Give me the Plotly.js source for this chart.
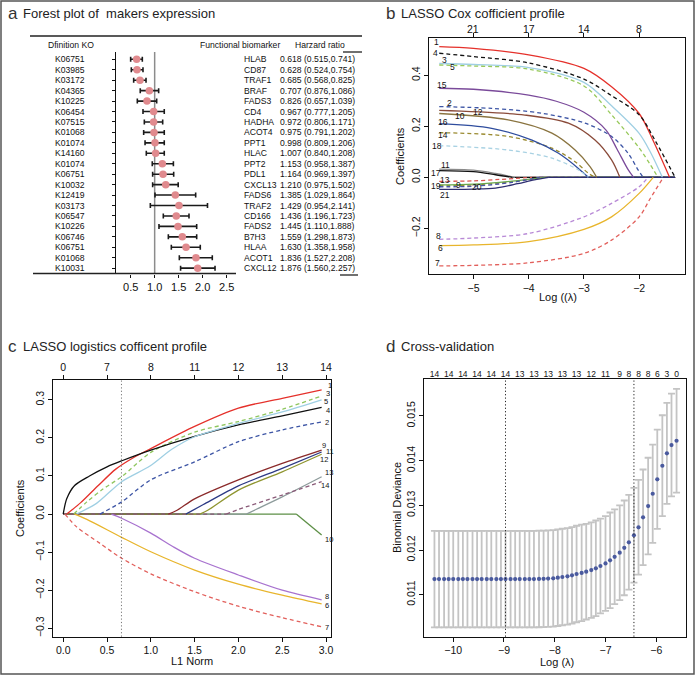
<!DOCTYPE html>
<html><head><meta charset="utf-8">
<script src="https://cdn.plot.ly/plotly-3.0.1.min.js"></script>
<style>html,body{margin:0;padding:0;background:#fff}#chart{width:695px;height:675px}</style>
</head><body><div id="chart"></div>
<script>
// ---------------- Panel a : forest plot ----------------
const koIds = ['K06751','K03985','K03172','K04365','K10225','K06454','K07515','K01068','K01074','K14160','K01074','K06751','K10032','K12419','K03173','K06547','K10226','K06746','K06751','K01068','K10031'];
const biomarkers = ['HLAB','CD87','TRAF1','BRAF','FADS3','CD4','HADHA','ACOT4','PPT1','HLAC','PPT2','PDL1','CXCL13','FADS6','TRAF2','CD166','FADS2','B7H3','HLAA','ACOT1','CXCL12'];
const hrText = ['0.618','0.628','0.685','0.707','0.826','0.967','0.972','0.975','0.998','1.007','1.153','1.164','1.210','1.385','1.429','1.436','1.445','1.559','1.630','1.836','1.876'];
const ciText = ['(0.515,0.741)','(0.524,0.754)','(0.568,0.825)','(0.876,1.086)','(0.657,1.039)','(0.777,1.205)','(0.806,1.171)','(0.791,1.202)','(0.809,1.206)','(0.840,1.208)','(0.958,1.387)','(0.969,1.397)','(0.975,1.502)','(1.029,1.864)','(0.954,2.141)','(1.196,1.723)','(1.110,1.888)','(1.298,1.873)','(1.358,1.958)','(1.527,2.208)','(1.560,2.257)'];
// plotted point / interval, as drawn in the figure
const hrPoint = [0.625,0.632,0.694,0.889,0.840,0.979,0.979,0.986,1.007,1.020,1.160,1.174,1.230,1.430,1.507,1.450,1.486,1.576,1.653,1.860,1.896];
const hrLow   = [0.500,0.514,0.563,0.700,0.639,0.757,0.785,0.771,0.800,0.826,0.950,0.958,0.958,1.007,0.910,1.180,1.090,1.285,1.347,1.514,1.540];
const hrHigh  = [0.743,0.757,0.820,1.083,1.042,1.200,1.167,1.200,1.200,1.200,1.390,1.396,1.490,1.854,2.100,1.715,1.875,1.875,1.950,2.200,2.257];
const forestTicks = [0.5,1.0,1.5,2.0,2.5];
const forestTickText = ['0.5','1.0','1.5','2.0','2.5'];

// ---------------- Panel b : LASSO Cox coefficient profile ----------------
const cox1  = [[-5.62,0.512],[-5,0.505],[-4,0.48],[-3,0.427],[-2.5,0.355],[-2,0.25],[-1.75,0.145],[-1.45,0]];
const cox2  = [[-5.62,0.277],[-4.67,0.27],[-3.76,0.251],[-2.98,0.212],[-2.5,0.16],[-2.2,0.094],[-2.02,0.029],[-1.93,0]];
const cox3  = [[-5.62,0.446],[-5,0.442],[-4,0.43],[-3,0.372],[-2.5,0.28],[-2,0.172],[-1.8,0.1],[-1.58,0]];
const cox4  = [[-5.62,0.486],[-5,0.473],[-4,0.448],[-3,0.385],[-2.5,0.32],[-2,0.245],[-1.7,0.14],[-1.35,0]];
const cox5  = [[-5.62,0.44],[-5,0.436],[-4,0.424],[-3,0.358],[-2.5,0.245],[-2,0.115],[-1.8,0.05],[-1.66,0]];
const cox6  = [[-5.62,-0.268],[-5,-0.265],[-4,-0.252],[-3,-0.204],[-2.5,-0.155],[-2,-0.063],[-1.745,0]];
const cox7  = [[-5.62,-0.347],[-5,-0.345],[-4,-0.335],[-3,-0.298],[-2.5,-0.246],[-2,-0.155],[-1.8,-0.083],[-1.56,0]];
const cox8  = [[-5.62,-0.243],[-5,-0.238],[-4,-0.22],[-3,-0.155],[-2.5,-0.102],[-2,-0.037],[-1.84,0]];
const cox9  = [[-5.62,-0.032],[-5,-0.03],[-4.3,-0.017],[-3.75,0]];
const cox10 = [[-5.62,0.25],[-4.37,0.225],[-3.58,0.173],[-3.16,0.107],[-2.89,0.042],[-2.77,0]];
const cox11 = [[-5.62,0.032],[-5,0.028],[-4.6,0.015],[-4.25,0]];
const cox12 = [[-5.62,0.262],[-4.07,0.244],[-3.28,0.212],[-2.8,0.146],[-2.5,0.068],[-2.35,0]];
const cox13 = [[-5.62,-0.016],[-5,-0.014],[-4.5,-0.008],[-3.94,0]];
const cox14 = [[-5.62,0.175],[-4.37,0.16],[-3.58,0.114],[-3.16,0.061],[-2.92,0.016],[-2.8,0]];
const cox15 = [[-5.62,0.349],[-5,0.345],[-4,0.322],[-3.5,0.298],[-3,0.255],[-2.6,0.185],[-2.4,0.11],[-2.2,0.03],[-2.1,0]];
const cox16 = [[-5.62,0.21],[-4.67,0.192],[-3.94,0.146],[-3.46,0.094],[-3.1,0.035],[-2.92,0]];
const cox17 = [[-5.62,0.026],[-5,0.022],[-4.6,0.01],[-4.3,0]];
const cox18 = [[-5.62,0.124],[-4.37,0.107],[-3.58,0.075],[-3.1,0.029],[-2.92,0]];
const cox19 = [[-5.62,-0.03],[-5,-0.027],[-4.3,-0.015],[-3.7,0]];
const cox20 = [[-5.62,-0.037],[-5,-0.035],[-4.3,-0.02],[-3.8,0]];
const cox21 = [[-5.62,-0.047],[-5,-0.046],[-4.6,-0.042],[-4.2,-0.025],[-3.9,-0.01],[-3.64,0]];
const coxCurves = [cox1,cox2,cox3,cox4,cox5,cox6,cox7,cox8,cox9,cox10,cox11,cox12,cox13,cox14,cox15,cox16,cox17,cox18,cox19,cox20,cox21];
const coxNames  = ['1','2','3','4','5','6','7','8','9','10','11','12','13','14','15','16','17','18','19','20','21'];
const coxLabelX = [-5.67,-5.44,-5.52,-5.68,-5.38,-5.6,-5.66,-5.63,-5.28,-5.24,-5.51,-4.92,-5.52,-5.56,-5.57,-5.56,-5.68,-5.66,-5.68,-4.93,-5.51];
const coxLabelY = [0.532,0.29,0.46,0.486,0.434,-0.276,-0.337,-0.23,-0.031,0.24,0.048,0.257,-0.011,0.166,0.362,0.218,0.018,0.123,-0.034,-0.039,-0.069];
const coxLambdaEnd = -1.35;
const coxTopTicks = [-5,-4,-3,-2];
const coxTopText = ['21','17','14','8'];

// ---------------- Panel c : LASSO logistic coefficient profile ----------------
const log1  = [[0.04,0],[0.2,0.03],[0.4,0.075],[0.6,0.118],[0.8,0.148],[1.0,0.172],[1.5,0.23],[2.0,0.278],[2.5,0.304],[2.95,0.326]];
const log2  = [[0.42,0],[0.667,0.032],[1.0,0.09],[1.5,0.137],[2.0,0.19],[2.5,0.221],[2.95,0.242]];
const log3  = [[0.12,0],[0.27,0.032],[0.45,0.065],[0.667,0.098],[1.0,0.162],[1.5,0.215],[2.0,0.243],[2.5,0.275],[2.95,0.31]];
const log4  = [[0,0],[0.04,0.04],[0.13,0.075],[0.3,0.1],[0.5,0.124],[0.67,0.14],[1.0,0.168],[1.5,0.204],[2.0,0.234],[2.5,0.258],[2.95,0.28]];
const log5  = [[0.15,0],[0.38,0.028],[0.667,0.085],[0.99,0.126],[1.24,0.17],[1.5,0.203],[2.0,0.238],[2.5,0.268],[2.95,0.3]];
const log6  = [[0.13,0],[0.27,-0.014],[0.667,-0.061],[1.0,-0.099],[1.5,-0.147],[2.0,-0.184],[2.5,-0.213],[2.95,-0.236]];
const log7  = [[0.02,0],[0.15,-0.033],[0.42,-0.077],[0.667,-0.116],[1.0,-0.157],[1.5,-0.204],[2.0,-0.242],[2.5,-0.272],[2.95,-0.296]];
const log8  = [[0.55,0],[0.667,-0.011],[1.0,-0.05],[1.25,-0.085],[1.5,-0.116],[2.0,-0.16],[2.5,-0.2],[2.95,-0.225]];
const log9  = [[1.2,0],[1.3,0.01],[1.5,0.04],[2.0,0.09],[2.5,0.133],[2.95,0.168]];
const log10 = [[2.66,0],[2.95,-0.055]];
const log11 = [[1.4,0],[1.6,0.025],[2.0,0.074],[2.5,0.12],[2.95,0.163]];
const log12 = [[1.56,0],[1.65,0.01],[2.0,0.063],[2.5,0.111],[2.95,0.157]];
const log13 = [[2.09,0],[2.2,0.012],[2.5,0.045],[2.95,0.098]];
const log14 = [[1.86,0],[2.0,0.012],[2.5,0.05],[2.95,0.085]];
const logCurves = [log10,log13,log1,log2,log3,log4,log5,log6,log7,log8,log9,log11,log12,log14];
const logNames  = ['10','13','1','2','3','4','5','6','7','8','9','11','12','14'];
const logLabelX = [2.96,2.96,2.995,2.97,2.98,2.98,2.95,2.97,2.97,2.97,2.93,2.98,2.91,2.92];
const logLabelY = [-0.067,0.109,0.338,0.241,0.316,0.273,0.295,-0.239,-0.297,-0.216,0.181,0.164,0.144,0.074];
const logTopTicks = [0,0.5,1,1.5,2,2.5,3];
const logTopText = ['0','7','8','11','12','13','14'];
const logBottomText = ['0.0','0.5','1.0','1.5','2.0','2.5','3.0'];
const logSelectedNorm = 0.665;

// ---------------- Panel d : cross-validation ----------------
const cvLogLambda = [-10.37,-10.28,-10.18,-10.09,-10.00,-9.90,-9.81,-9.72,-9.62,-9.53,-9.44,-9.34,-9.25,-9.15,-9.06,-8.97,-8.87,-8.78,-8.69,-8.59,-8.50,-8.41,-8.31,-8.22,-8.13,-8.03,-7.94,-7.85,-7.75,-7.66,-7.57,-7.47,-7.38,-7.28,-7.19,-7.10,-7.00,-6.91,-6.82,-6.72,-6.63,-6.54,-6.44,-6.35,-6.26,-6.16,-6.07,-5.98,-5.88,-5.79,-5.70,-5.60];
const cvMean = [0.01135,0.01135,0.01135,0.01135,0.01135,0.01135,0.01135,0.01135,0.01135,0.01135,0.01135,0.01135,0.01135,0.01135,0.01135,0.01135,0.01135,0.01135,0.01135,0.01135,0.01135,0.01135,
  0.011352,0.011355,0.01136,0.011367,0.01138,0.011396,0.01141,0.011434,0.011463,0.011488,0.011515,0.01155,0.01159,0.011642,0.0117,0.011769,0.011848,0.01194,0.012048,0.012172,0.01233,0.012508,0.012732,0.012984,0.013259,0.013582,0.013886,0.014163,0.014349,0.014445];
const cvSE = [0.00108,0.00108,0.00108,0.00108,0.00108,0.00108,0.00108,0.00108,0.00108,0.00108,0.00108,0.00108,0.00108,0.00108,0.00108,0.00108,0.00108,0.00108,0.00108,0.00108,0.00108,0.00108,
  0.00108,0.00108,0.00108,0.00108,0.00108,0.00108,0.00108,0.00108,0.00108,0.00108,0.00107,0.00107,0.00107,0.00106,0.00106,0.00107,0.00106,0.00106,0.00106,0.00106,0.00106,0.00106,0.00107,0.00108,0.0011,0.00111,0.00113,0.00113,0.00115,0.00116];
const cvTopIdx = [0,3,6,9,12,15,18,21,24,27,30,33,36,39,41,43,45,47,49,51];
const cvTopText = ['14','14','14','14','14','14','13','13','13','13','13','12','11','9','8','8','8','6','3','0'];
const cvMinIdx = 15, cv1seIdx = 42;
const cvTicks = [-10,-9,-8,-7,-6];
const cvYTicks = [0.011,0.012,0.013,0.014,0.015];

// ---------------- styles ----------------
const FONT = 'Liberation Sans, Arial, Helvetica, sans-serif';
const W = 695, H = 675;
const coxColor = ['#e5312b','#3d55a5','#9fcfe3','#111111','#97c95a','#e8b52c','#e2605c','#b889d6','#9a8a30','#8a7440','#8a8a8a','#8a4b3a','#d9534f','#9a8a30','#7a4a9a','#2f4d9e','#111111','#a9d2e3','#6aa84f','#4a55a5','#2d2d70'];
const coxDash  = ['solid','dash','solid','dash','dash','solid','dash','dash','dash','solid','solid','solid','dash','dash','solid','solid','solid','dash','solid','dash','solid'];
const logColorMap = {'1':'#e5312b','2':'#3d55a5','3':'#8fc65f','4':'#111111','5':'#9fcfe3','6':'#e8b52c','7':'#e2605c','8':'#a873cf','9':'#8b2a2a','10':'#5d8f46','11':'#2d3a85','12':'#8f9530','13':'#8d9b9b','14':'#8a5a78'};
const logDashMap  = {'1':'solid','2':'dash','3':'dash','4':'solid','5':'solid','6':'solid','7':'dash','8':'solid','9':'solid','10':'solid','11':'solid','12':'solid','13':'solid','14':'dash'};
const DASH = '4px,3px';
const DOTS = '1.2px,2.2px';
const px = x => x / W, py = y => 1 - y / H;

const traces = [];
const ann = [];
const shapes = [];
function note(x, y, text, o) {
  o = o || {};
  ann.push({xref: o.xref || 'paper', yref: o.yref || 'paper', x: x, y: y, text: text, showarrow: false,
    xanchor: o.xanchor || 'center', yanchor: o.yanchor || 'middle', textangle: o.textangle || 0,
    font: {family: FONT, size: o.size || 9, color: o.color || '#111'}});
}

// ---- panel a traces ----
const rows = koIds.map((_, i) => i);
traces.push({type: 'scatter', mode: 'markers', x: hrPoint, y: rows, xaxis: 'x', yaxis: 'y',
  marker: {color: '#e08a8e', size: 7.5, line: {width: 0}},
  error_x: {type: 'data', symmetric: false, array: hrHigh.map((h, i) => h - hrPoint[i]),
    arrayminus: hrLow.map((l, i) => hrPoint[i] - l), color: '#1a1a1a', thickness: 1.6, width: 2.5},
  hoverinfo: 'skip', showlegend: false});
rows.forEach(i => {
  note(px(70), i, koIds[i], {yref: 'y', size: 8.6});
  note(px(242), i, biomarkers[i], {yref: 'y', size: 8.6, xanchor: 'left'});
  note(px(278), i, hrText[i], {yref: 'y', size: 8.6, xanchor: 'left'});
  note(px(301.5), i, ciText[i], {yref: 'y', size: 8.6, xanchor: 'left'});
});
note(px(71), py(45), 'Dfinition KO', {size: 8.6});
note(px(240), py(45), 'Functional biomarker', {size: 8.6});
note(px(320), py(45), 'Harzard ratio', {size: 8.6});
shapes.push({type: 'line', xref: 'x', yref: 'y domain', x0: 1, x1: 1, y0: 0, y1: 1, line: {color: '#8c8c8c', width: 1.5}, layer: 'below'});
shapes.push({type: 'line', xref: 'paper', yref: 'paper', x0: px(30), x1: px(362), y0: py(36), y1: py(36), line: {color: '#222', width: 1.3}});
shapes.push({type: 'line', xref: 'paper', yref: 'paper', x0: px(343), x1: px(362), y0: py(52), y1: py(52), line: {color: '#222', width: 1.3}});
shapes.push({type: 'line', xref: 'paper', yref: 'paper', x0: px(33), x1: px(236), y0: py(273.5), y1: py(273.5), line: {color: '#222', width: 1.6}});
shapes.push({type: 'line', xref: 'paper', yref: 'paper', x0: px(340), x1: px(358), y0: py(275), y1: py(275), line: {color: '#222', width: 1.3}});

// ---- panel b traces ----
coxCurves.forEach((pts, i) => {
  const st = {color: coxColor[i], width: 1.3, dash: coxDash[i] === 'dash' ? DASH : 'solid'};
  const last = pts[pts.length - 1];
  traces.push({type: 'scatter', mode: 'lines', x: [last[0], coxLambdaEnd], y: [0, 0], xaxis: 'x2', yaxis: 'y2', line: st, hoverinfo: 'skip', showlegend: false});
});
coxCurves.forEach((pts, i) => {
  const st = {color: coxColor[i], width: 1.3, dash: coxDash[i] === 'dash' ? DASH : 'solid', shape: 'spline', smoothing: 0.9};
  traces.push({type: 'scatter', mode: 'lines', x: pts.map(p => p[0]), y: pts.map(p => p[1]), xaxis: 'x2', yaxis: 'y2', line: st, hoverinfo: 'skip', showlegend: false});
  note(coxLabelX[i], coxLabelY[i], coxNames[i], {xref: 'x2', yref: 'y2', size: 8.5});
});
traces.push({type: 'scatter', mode: 'markers', x: coxTopTicks, y: coxTopTicks.map(() => 0), xaxis: 'x5', yaxis: 'y2', marker: {opacity: 0}, hoverinfo: 'skip', showlegend: false});
coxTopTicks.forEach((v, i) => note(v, py(28.5), coxTopText[i], {xref: 'x2', size: 10.5}));

// ---- panel c traces ----
logCurves.forEach((pts, i) => {
  const nm = logNames[i];
  const first = pts[0];
  if (first[0] > 0) {
    traces.push({type: 'scatter', mode: 'lines', x: [0, first[0]], y: [0, 0], xaxis: 'x3', yaxis: 'y3',
      line: {color: logColorMap[nm], width: 1.3, dash: logDashMap[nm] === 'dash' ? DASH : 'solid'}, hoverinfo: 'skip', showlegend: false});
  }
});
logCurves.forEach((pts, i) => {
  const nm = logNames[i];
  traces.push({type: 'scatter', mode: 'lines', x: pts.map(p => p[0]), y: pts.map(p => p[1]), xaxis: 'x3', yaxis: 'y3',
    line: {color: logColorMap[nm], width: 1.3, dash: logDashMap[nm] === 'dash' ? DASH : 'solid', shape: 'spline', smoothing: 0.8}, hoverinfo: 'skip', showlegend: false});
  note(logLabelX[i], logLabelY[i], nm, {xref: 'x3', yref: 'y3', size: 7.5, xanchor: 'left'});
});
traces.push({type: 'scatter', mode: 'markers', x: logTopTicks, y: logTopTicks.map(() => 0), xaxis: 'x6', yaxis: 'y3', marker: {opacity: 0}, hoverinfo: 'skip', showlegend: false});
shapes.push({type: 'line', xref: 'x3', yref: 'y3 domain', x0: logSelectedNorm, x1: logSelectedNorm, y0: 0, y1: 1, line: {color: '#777', width: 1, dash: DOTS}});

// ---- panel d traces ----
traces.push({type: 'scatter', mode: 'markers', x: cvLogLambda, y: cvMean, xaxis: 'x4', yaxis: 'y4',
  marker: {color: '#4a5a9e', size: 4.2},
  error_y: {type: 'data', array: cvSE, color: '#c4c4c4', thickness: 1.8, width: 3.5},
  hoverinfo: 'skip', showlegend: false});
traces.push({type: 'scatter', mode: 'markers', x: cvTopIdx.map(i => cvLogLambda[i]), y: cvTopIdx.map(() => 0.012), xaxis: 'x7', yaxis: 'y4', marker: {opacity: 0}, hoverinfo: 'skip', showlegend: false});
[cvMinIdx, cv1seIdx].forEach(k => shapes.push({type: 'line', xref: 'x4', yref: 'y4 domain', x0: cvLogLambda[k], x1: cvLogLambda[k], y0: 0, y1: 1, line: {color: '#222', width: 1, dash: DOTS}}));

// ---- titles & axis titles ----
function title(x, y, letter, text) {
  note(px(x), py(y), letter, {xanchor: 'left', size: 17, color: '#333'});
  note(px(x + 15), py(y), text, {xanchor: 'left', size: 13, color: '#222'});
}
title(6, 14, 'a', 'Forest plot of  makers expression');
title(384, 13, 'b', 'LASSO Cox cofficient profile');
title(6, 346, 'c', 'LASSO logistics cofficent profile');
title(384, 346, 'd', 'Cross-validation');
note(px(400), py(156), 'Coefficients', {textangle: -90, size: 11});
note(px(558), py(297), 'Log ((λ)', {size: 11});
note(px(20), py(508), 'Coefficients', {textangle: -90, size: 11});
note(px(192), py(661), 'L1 Norm', {size: 11});
note(px(397), py(508), 'Binomial Deviance', {textangle: -90, size: 11});
note(px(557), py(662), 'Log (λ)', {size: 11});

// outer frame
shapes.push({type: 'rect', xref: 'paper', yref: 'paper', x0: px(1), x1: px(694), y0: py(674), y1: py(1), line: {color: '#555', width: 1.5}});

const tf = {family: FONT, size: 10.5, color: '#111'};
function axis(extra) {
  return Object.assign({showgrid: false, zeroline: false, ticks: 'outside', ticklen: 4, tickwidth: 1, tickcolor: '#111',
    showline: true, mirror: true, linecolor: '#111', linewidth: 1, tickfont: tf, fixedrange: true}, extra);
}
const layout = {
  width: W, height: H, margin: {l: 0, r: 0, t: 0, b: 0}, paper_bgcolor: '#fff', plot_bgcolor: 'rgba(0,0,0,0)',
  showlegend: false, font: {family: FONT},
  xaxis: axis({domain: [px(116), px(240)], range: [0.195, 2.777], anchor: 'y', showline: false, mirror: false,
    tickvals: forestTicks, ticktext: forestTickText, ticklen: 3, tickfont: {family: FONT, size: 11, color: '#111'}}),
  yaxis: axis({domain: [py(273.5), py(52)], range: [20.51, -0.7], anchor: 'x', mirror: false, linewidth: 1.5,
    tickvals: rows, showticklabels: false, ticklen: 3}),
  xaxis2: axis({domain: [px(429.3), px(685)], range: [-5.80, -1.17], anchor: 'y2', tickvals: [-5, -4, -3, -2], ticktext: ['\u22125', '\u22124', '\u22123', '\u22122']}),
  yaxis2: axis({domain: [py(274.3), py(37.7)], range: [-0.38, 0.547], anchor: 'x2', tickvals: [-0.2, 0, 0.2, 0.4], ticktext: ['\u22120.2', '0.0', '0.2', '0.4'], tickangle: -90}),
  xaxis5: axis({overlaying: 'x2', side: 'top', anchor: 'y2', range: [-5.80, -1.17], tickvals: coxTopTicks, showticklabels: false, showline: false, mirror: false}),
  xaxis3: axis({domain: [px(52.7), px(331)], range: [-0.12, 3.057], anchor: 'y3', tickvals: logTopTicks, ticktext: logBottomText}),
  yaxis3: axis({domain: [py(636.7), py(380)], range: [-0.322, 0.352], anchor: 'x3', tickvals: [-0.3, -0.2, -0.1, 0, 0.1, 0.2, 0.3], ticktext: ['\u22120.3', '\u22120.2', '\u22120.1', '0.0', '0.1', '0.2', '0.3'], tickangle: -90}),
  xaxis6: axis({overlaying: 'x3', side: 'top', anchor: 'y3', range: [-0.12, 3.057], tickvals: logTopTicks, ticktext: logTopText, showline: false, mirror: false}),
  xaxis4: axis({domain: [px(424.3), px(685.7)], range: [-10.57, -5.42], anchor: 'y4', tickvals: cvTicks, ticktext: ['\u221210', '\u22129', '\u22128', '\u22127', '\u22126']}),
  yaxis4: axis({domain: [py(636.7), py(379.3)], range: [0.01006, 0.01582], anchor: 'x4', tickvals: cvYTicks, ticktext: ['0.011', '0.012', '0.013', '0.014', '0.015'], tickangle: -90}),
  xaxis7: axis({overlaying: 'x4', side: 'top', anchor: 'y4', range: [-10.57, -5.42], tickvals: cvTopIdx.map(i => cvLogLambda[i]), ticktext: cvTopText,
    ticks: '', showline: false, mirror: false, tickfont: {family: FONT, size: 8.5, color: '#111'}}),
  annotations: ann, shapes: shapes
};
Plotly.newPlot('chart', traces, layout, {staticPlot: true, displayModeBar: false});
</script></body></html>
